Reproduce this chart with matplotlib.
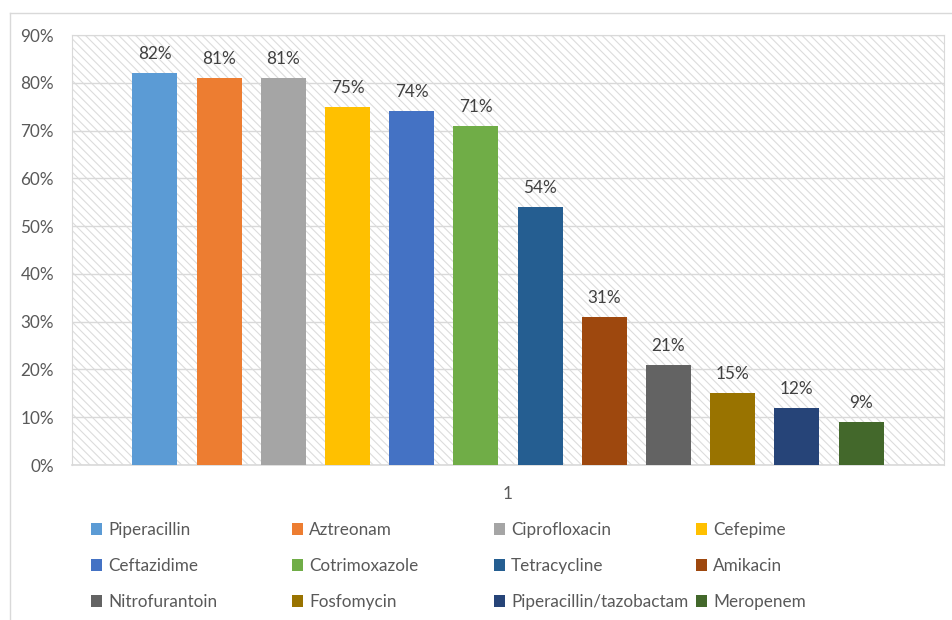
import numpy as np
import matplotlib
matplotlib.use("Agg")
import matplotlib.pyplot as plt
from matplotlib.patches import Rectangle
from matplotlib.lines import Line2D

# =========================
# Data
# =========================
drugs = ["Piperacillin", "Aztreonam", "Ciprofloxacin", "Cefepime",
         "Ceftazidime", "Cotrimoxazole", "Tetracycline", "Amikacin",
         "Nitrofurantoin", "Fosfomycin", "Piperacillin/tazobactam", "Meropenem"]
values = [82, 81, 81, 75, 74, 71, 54, 31, 21, 15, 12, 9]
colors = ["#5B9BD5", "#ED7D31", "#A5A5A5", "#FFC000", "#4472C4", "#70AD47",
          "#255E91", "#9E480E", "#636363", "#997300", "#264478", "#43682B"]
category = ["1"]
yticks = [0, 10, 20, 30, 40, 50, 60, 70, 80, 90]

W, H = 952, 620
plt.rcParams["font.family"] = ["Lato", "DejaVu Sans"]
plt.rcParams["hatch.linewidth"] = 0.8
text_col = "#595959"
grid_col = "#d9d9d9"

fig = plt.figure(figsize=(W / 100, H / 100), dpi=100)
ax = fig.add_axes([72 / W, (H - 465) / H, (944 - 72) / W, (465 - 35) / H])

# hatched plot area background
ax.add_patch(Rectangle((0, 0), 1, 1, transform=ax.transAxes, facecolor="white",
                       edgecolor="#dcdcdc", hatch="\\\\\\\\", lw=0, zorder=0))

n = len(values)
step = 64.2 / 872
bw = 45 / 872
bars = []
for i, (name, v, c) in enumerate(zip(drugs, values, colors)):
    x = 1 + (i - (n - 1) / 2) * step
    b = ax.bar(x, v, width=bw, color=c, label=name, zorder=3)
    bars.append(b)
    ax.annotate(f"{v}%", (x, v), xytext=(0, 8), textcoords="offset points",
                ha="center", va="bottom", fontsize=12.3, color="#404040")

ax.set_xlim(0.5, 1.5)
ax.set_ylim(0, 90)
ax.set_yticks(yticks)
ax.set_yticklabels([f"{t}%" for t in yticks])
ax.set_xticks([1])
ax.set_xticklabels(category)
ax.tick_params(axis="both", length=0, labelsize=12.3, colors=text_col)
ax.tick_params(axis="y", pad=13)
ax.tick_params(axis="x", pad=15)
ax.grid(axis="y", color=grid_col, lw=1, zorder=1)
ax.set_axisbelow(True)
for s in ["top", "right", "left"]:
    ax.spines[s].set_color(grid_col)
    ax.spines[s].set_linewidth(0.8)
ax.spines["bottom"].set_color(grid_col)
ax.spines["bottom"].set_linewidth(1.2)

# legend: four columns, three rows
col_x = [91, 292, 494, 696]
for j, x0 in enumerate(col_x):
    idx = [j, j + 4, j + 8]
    leg = fig.legend(handles=[bars[k] for k in idx], labels=[drugs[k] for k in idx],
                     loc="upper left", bbox_to_anchor=(x0 / W, (H - 522) / H),
                     frameon=False, fontsize=12.3, handlelength=0.65, handleheight=0.65,
                     handletextpad=0.35, labelspacing=1.17, borderpad=0, borderaxespad=0)
    for t in leg.get_texts():
        t.set_color(text_col)

# outer chart frame
fig.add_artist(Line2D([10 / W, 10 / W], [0, (H - 13) / H], transform=fig.transFigure,
                      color="#d9d9d9", lw=1))
fig.add_artist(Line2D([10 / W, 1], [(H - 13) / H, (H - 13) / H], transform=fig.transFigure,
                      color="#d9d9d9", lw=1))

fig.savefig("out.png", dpi=100)
